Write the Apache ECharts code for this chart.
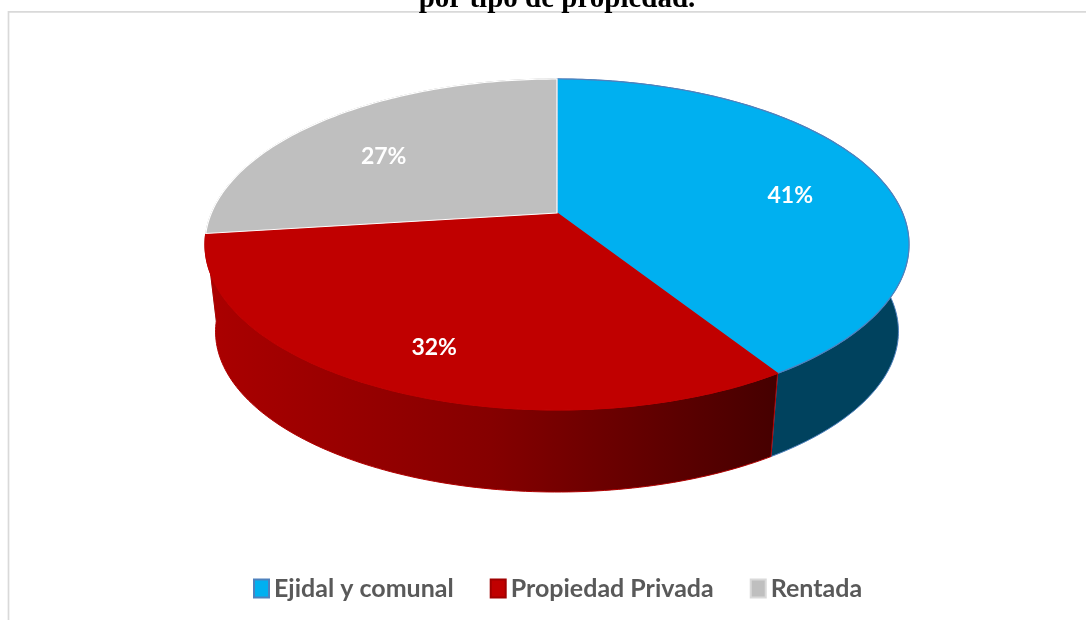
<!DOCTYPE html>
<html>
<head>
<meta charset="utf-8">
<script src="https://cdn.jsdelivr.net/npm/echarts@6/dist/echarts.min.js"></script>
<style>
    html, body { margin: 0; padding: 0; background: #fff; }
    #chart { width: 1086px; height: 620px; }
</style>
</head>
<body>
<div id="chart"></div>
<script>
    // datos
    var categories = ['Ejidal y comunal', 'Propiedad Privada', 'Rentada'];
    var shares = [41, 32, 27];
    var titleText = 'por tipo de propiedad.';

    // estilos por rebanada
    var topColors = ['#00b0f0', '#c00000', '#bfbfbf'];
    var topStroke = ['#4f81bd', '#c00000', '#ffffff'];
    var wallColors = [
        '#00425e',
        new echarts.graphic.LinearGradient(0, 0, 1, 0, [
            {offset: 0, color: '#ab0000'},
            {offset: 0.5, color: '#850000'},
            {offset: 1, color: '#450000'}
        ]),
        '#a6a6a6'
    ];
    var wallStroke = ['#4f81bd', '#b00000', '#a6a6a6'];
    var legendBorder = ['#4f81bd', '#a00000', '#d9d9d9'];

    // geometria del pastel 3D (perspectiva)
    var cx = 557, cy = 213, R = 345.6, S = 159.5, p = 0.19, k = 0.97, cyB = 301;

    function proj(deg, r, bottom) {
        var a = deg * Math.PI / 180;
        var u = r * Math.sin(a), v = -r * Math.cos(a);
        var w = 1 - p * v;
        if (bottom) {
            return [cx + k * R * u / w, cyB + k * S * v / w];
        }
        return [cx + R * u / w, cy + S * v / w];
    }

    var total = shares.reduce(function (s, x) { return s + x; }, 0);

    function sliceRange(i) {
        var before = 0;
        for (var j = 0; j < i; j++) before += shares[j];
        return [before / total * 360, (before + shares[i]) / total * 360];
    }

    function arc(a0, a1, bottom) {
        var pts = [];
        var n = Math.max(2, Math.ceil(Math.abs(a1 - a0)));
        for (var s = 0; s <= n; s++) {
            pts.push(proj(a0 + (a1 - a0) * s / n, 1, bottom));
        }
        return pts;
    }

    // la pared mas cercana al observador se dibuja encima
    function frontness(a0, a1) {
        var best = -1;
        for (var d = a0; d <= a1; d += 0.5) {
            best = Math.max(best, -Math.cos(d * Math.PI / 180));
        }
        return best;
    }

    function renderSlice(params, api) {
        var i = params.seriesIndex;
        var rg = sliceRange(i);
        var topPts = [proj(0, 0, false)].concat(arc(rg[0], rg[1], false));
        var wallPts = arc(rg[0], rg[1], false).concat(arc(rg[1], rg[0], true));
        var mid = (rg[0] + rg[1]) / 2;
        var lp = proj(mid, 0.73, false);
        return {
            type: 'group',
            children: [
                {
                    type: 'polygon',
                    z2: 2 + frontness(rg[0], rg[1]),
                    shape: {points: wallPts},
                    style: {fill: wallColors[i], stroke: wallStroke[i], lineWidth: 1}
                },
                {
                    type: 'polygon',
                    z2: 10,
                    shape: {points: topPts},
                    style: {fill: topColors[i], stroke: topStroke[i], lineWidth: 1.2}
                },
                {
                    type: 'text',
                    z2: 20,
                    x: lp[0],
                    y: lp[1] + 14,
                    style: {
                        text: Math.round(api.value(0) / total * 100) + '%',
                        fill: '#ffffff',
                        font: 'bold 23px Lato, "Open Sans", sans-serif',
                        align: 'center',
                        verticalAlign: 'middle'
                    }
                }
            ]
        };
    }

    var myChart = echarts.init(document.getElementById('chart'));

    var series = categories.map(function (name, i) {
        return {
            name: name,
            type: 'custom',
            coordinateSystem: 'none',
            silent: true,
            animation: false,
            itemStyle: {color: topColors[i]},
            renderItem: renderSlice,
            data: [[shares[i]]]
        };
    });

    var option = {
        backgroundColor: '#ffffff',
        animation: false,
        graphic: [
            {
                type: 'rect',
                z: 0,
                shape: {x: 8.5, y: 11.8, width: 1200, height: 800},
                style: {fill: 'none', stroke: '#d9d9d9', lineWidth: 1.7}
            },
            {
                type: 'text',
                z: 5,
                x: 557,
                y: 0,
                style: {
                    text: titleText,
                    fill: '#000000',
                    font: 'bold 29px "Liberation Serif", "Times New Roman", serif',
                    align: 'center',
                    verticalAlign: 'middle'
                }
            }
        ],
        legend: {
            top: 571,
            left: 248,
            itemWidth: 15,
            itemHeight: 18,
            itemGap: 36,
            icon: 'rect',
            selectedMode: false,
            textStyle: {
                fontFamily: 'Lato, "Open Sans", sans-serif',
                fontWeight: 'bold',
                fontSize: 25,
                color: '#595959'
            },
            data: categories.map(function (name, i) {
                return {
                    name: name,
                    itemStyle: {color: topColors[i], borderColor: legendBorder[i], borderWidth: 2}
                };
            })
        },
        series: series
    };

    myChart.setOption(option);
</script>
</body>
</html>
